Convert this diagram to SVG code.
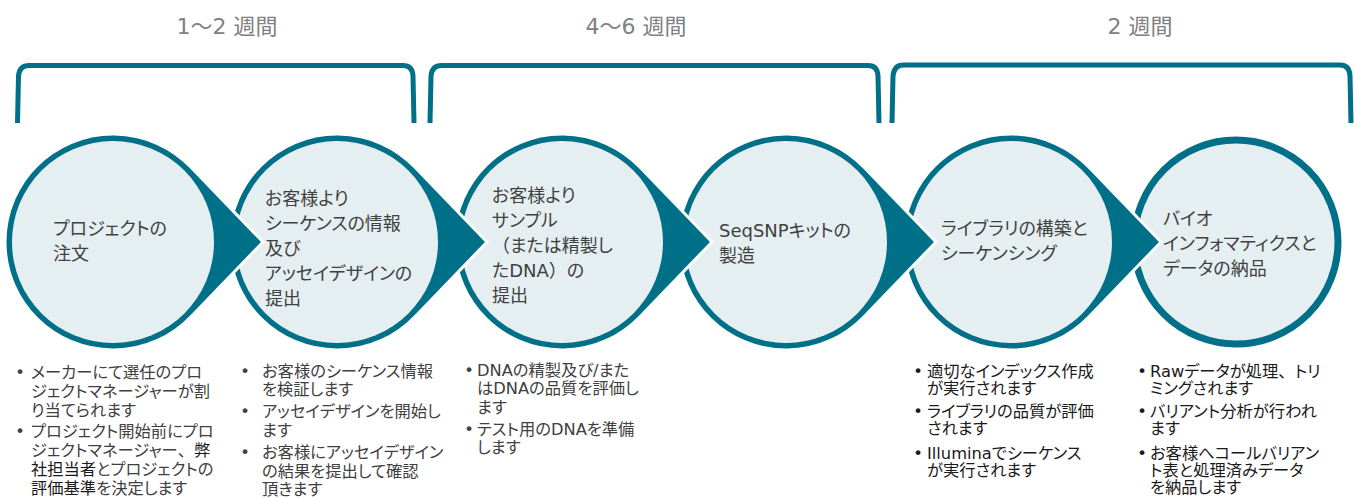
<svg xmlns="http://www.w3.org/2000/svg" xmlns:xlink="http://www.w3.org/1999/xlink" width="1354" height="498" viewBox="0 0 1354 498">
<style>
  text { font-family: "DejaVu Sans", "Noto Sans CJK JP", sans-serif; font-feature-settings: "palt"; }
  .fw { font-feature-settings: normal; }
  .wk { font-size: 22px; fill: #808080; text-anchor: middle; }
  .lbl { font-size: 18px; fill: #404040; }
  .bl { font-size: 16.3px; fill: #404040; }
  .bk { font-size: 16.3px; fill: #1a1a1a; }
  .b { fill: #1a1a1a; }
  .dot { text-anchor: middle; }
  .brk { fill: none; stroke: #007088; stroke-width: 5; stroke-linejoin: round; }
  .drop { fill: #007088; stroke: #ffffff; stroke-width: 3; }
  .inner { fill: #E5EEF1; }
</style>
<defs>
  <path id="drop" d="M150,0 L77.76,-74.95 A108,108 0 1 0 77.76,74.95 Z"/>
</defs>
<rect width="1354" height="498" fill="#ffffff"/>

<g id="connectors">
  <path class="brk" d="M17.5,123 L18.5,76 Q19.5,65.5 29,65.5 L403,65.5 Q412.5,65.5 413,76 L414,123"/>
  <path class="brk" d="M430,123 L431,76 Q432,65.5 441.5,65.5 L868,65.5 Q877.5,65.5 878,76 L879,123"/>
  <path class="brk" d="M892,123 L893,76 Q894,65 903.5,65 L1340,65 Q1349.5,65 1350,76 L1351,123"/>
</g>

<g id="weeks">
  <text class="wk" x="227" y="34">1〜2 週間</text>
  <text class="wk" x="636" y="34">4〜6 週間</text>
  <text class="wk" x="1140" y="34">2 週間</text>
</g>

<g id="node6">
  <circle cx="1236" cy="242" r="102" fill="#E5EEF1" stroke="#007088" stroke-width="7"/>
  <text class="lbl" x="1163" y="225">バイオ</text>
  <text class="lbl" x="1163" y="250">インフォマティクスと</text>
  <text class="lbl" x="1163" y="275">データの納品</text>
</g>

<g id="node5">
  <use xlink:href="#drop" class="drop" transform="translate(1011,242)"/>
  <circle class="inner" cx="1011" cy="242" r="101"/>
  <text class="lbl" x="941" y="235">ライブラリの構築と</text>
  <text class="lbl" x="941" y="260">シーケンシング</text>
</g>

<g id="node4">
  <use xlink:href="#drop" class="drop" transform="translate(786,242)"/>
  <circle class="inner" cx="786" cy="242" r="101"/>
  <text class="lbl" x="719" y="237">SeqSNPキットの</text>
  <text class="lbl" x="719" y="262">製造</text>
</g>

<g id="node3">
  <use xlink:href="#drop" class="drop" transform="translate(562,242)"/>
  <circle class="inner" cx="562" cy="242" r="101"/>
  <text class="lbl" x="492" y="202">お客様より</text>
  <text class="lbl" x="492" y="227">サンプル</text>
  <text class="lbl" x="492" y="252"><tspan class="fw">（</tspan>または精製し</text>
  <text class="lbl" x="492" y="277">たDNA<tspan class="fw">）</tspan>の</text>
  <text class="lbl" x="492" y="302">提出</text>
</g>

<g id="node2">
  <use xlink:href="#drop" class="drop" transform="translate(337,242)"/>
  <circle class="inner" cx="337" cy="242" r="101"/>
  <text class="lbl" x="265" y="205">お客様より</text>
  <text class="lbl" x="265" y="230">シーケンスの情報</text>
  <text class="lbl" x="265" y="255">及び</text>
  <text class="lbl" x="265" y="280">アッセイデザインの</text>
  <text class="lbl" x="265" y="305">提出</text>
</g>

<g id="node1">
  <use xlink:href="#drop" class="drop" transform="translate(113,242)"/>
  <circle class="inner" cx="113" cy="242" r="101"/>
  <text class="lbl" x="53" y="235">プロジェクトの</text>
  <text class="lbl" x="53" y="260">注文</text>
</g>

<g id="notes1">
  <text class="bl dot" x="20" y="378">•</text>
  <text class="bl" x="31" y="378">メーカーにて選任のプロ</text>
  <text class="bl" x="31" y="397">ジェクトマネージャーが割</text>
  <text class="bl" x="31" y="416">り当てられます</text>
  <text class="bl dot" x="20" y="437">•</text>
  <text class="bl" x="31" y="437">プロジェクト開始前にプロ</text>
  <text class="bl" x="31" y="456">ジェクトマネージャー<tspan class="fw">、</tspan><tspan class="b">弊</tspan></text>
  <text class="bl" x="31" y="475"><tspan class="b">社担当者</tspan>とプロジェクトの</text>
  <text class="bl" x="31" y="494"><tspan class="b">評価基準</tspan>を決定します</text>
</g>

<g id="notes2">
  <text class="bl dot" x="245" y="377">•</text>
  <text class="bl" x="262" y="377">お客様のシーケンス情報</text>
  <text class="bl" x="262" y="395">を検証します</text>
  <text class="bl dot" x="245" y="417">•</text>
  <text class="bl" x="262" y="417">アッセイデザインを開始し</text>
  <text class="bl" x="262" y="436">ます</text>
  <text class="bl dot" x="245" y="458">•</text>
  <text class="bl" x="262" y="458">お客様にアッセイデザイン</text>
  <text class="bl" x="262" y="477">の結果を提出して確認</text>
  <text class="bl" x="262" y="495">頂きます</text>
</g>

<g id="notes3">
  <text class="bl dot" x="469" y="376">•</text>
  <text class="bl" x="477" y="376">DNAの精製及び/また</text>
  <text class="bl" x="477" y="394">はDNAの品質を評価し</text>
  <text class="bl" x="477" y="413">ます</text>
  <text class="bl dot" x="469" y="435">•</text>
  <text class="bl" x="477" y="435">テスト用のDNAを準備</text>
  <text class="bl" x="477" y="453">します</text>
</g>

<g id="notes5">
  <text class="bk dot" x="918" y="377">•</text>
  <text class="bk" x="927" y="377">適切なインデックス作成</text>
  <text class="bk" x="927" y="394">が実行されます</text>
  <text class="bk dot" x="918" y="417">•</text>
  <text class="bk" x="927" y="417">ライブラリの品質が評価</text>
  <text class="bk" x="927" y="434">されます</text>
  <text class="bk dot" x="918" y="459">•</text>
  <text class="bk" x="927" y="459">Illuminaでシーケンス</text>
  <text class="bk" x="927" y="476">が実行されます</text>
</g>

<g id="notes6">
  <text class="bk dot" x="1142" y="377">•</text>
  <text class="bk" x="1150" y="377">Rawデータが処理<tspan class="fw">、</tspan>トリ</text>
  <text class="bk" x="1150" y="394">ミングされます</text>
  <text class="bk dot" x="1142" y="417">•</text>
  <text class="bk" x="1150" y="417">バリアント分析が行われ</text>
  <text class="bk" x="1150" y="434">ます</text>
  <text class="bk dot" x="1142" y="459">•</text>
  <text class="bk" x="1150" y="459">お客様へコールバリアン</text>
  <text class="bk" x="1150" y="476">ト表と処理済みデータ</text>
  <text class="bk" x="1150" y="493">を納品します</text>
</g>
</svg>
